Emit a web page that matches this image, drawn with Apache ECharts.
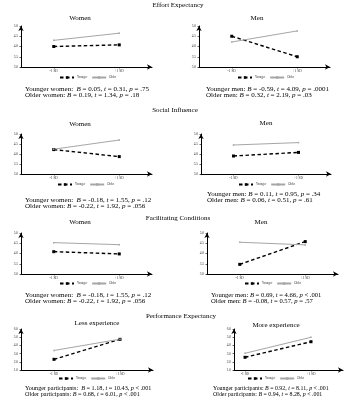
<!DOCTYPE html>
<html>
<head>
<meta charset="utf-8">
<script src="https://cdn.jsdelivr.net/npm/echarts@6/dist/echarts.min.js"></script>
<style>
  html, body { margin: 0; padding: 0; background: #fff; }
  #chart { width: 357px; height: 401px; }
</style>
</head>
<body>
<div id="chart"></div>
<script>
// ---------- data ----------
const xCategories = ['-1 SD', '+1 SD'];
const seriesNames = ['Younger', 'Older'];

const effortWomenYounger = [4.00, 4.08];
const effortWomenOlder   = [4.30, 4.65];
const effortMenYounger   = [4.50, 3.50];
const effortMenOlder     = [4.22, 4.76];

const socialWomenYounger = [4.22, 3.87];
const socialWomenOlder   = [4.24, 4.70];
const socialMenYounger   = [3.90, 4.08];
const socialMenOlder     = [4.45, 4.57];

const facilWomenYounger  = [4.09, 3.98];
const facilWomenOlder    = [4.53, 4.43];
const facilMenYounger    = [3.47, 4.58];
const facilMenOlder      = [4.55, 4.42];

const perfLessYounger    = [2.30, 4.74];
const perfLessOlder      = [3.38, 4.76];
const perfMoreYounger    = [2.55, 4.45];
const perfMoreOlder      = [3.04, 4.99];

const sectionTitles = ['Effort Expectancy', 'Social Influence', 'Facilitating Conditions', 'Performance Expectancy'];
const panelTitles = ['Women', 'Men', 'Women', 'Men', 'Women', 'Men', 'Less experience', 'More experience'];

const statLines = [
  ['Younger women:  B = 0.05, t = 0.31, p = .75', 'Older women: B = 0.19, t = 1.34, p = .18'],
  ['Younger men: B = -0.59, t = 4.09, p = .0001', 'Older men: B = 0.32, t = 2.19, p = .03'],
  ['Younger women:  B = -0.18, t = 1.55, p = .12', 'Older women: B = -0.22, t = 1.92, p = .056'],
  ['Younger men: B = 0.11, t = 0.95, p = .34', 'Older men: B = 0.06, t = 0.51, p = .61'],
  ['Younger women:  B = -0.18, t = 1.55, p = .12', 'Older women: B = -0.22, t = 1.92, p = .056'],
  ['Younger men: B = 0.69, t = 4.66, p < .001', 'Older men: B = -0.08, t = 0.57, p = .57'],
  ['Younger participants:  B = 1.18, t = 10.43, p < .001', 'Older participants: B = 0.68, t = 6.01, p < .001'],
  ['Younger participants: B = 0.92, t = 8.11, p < .001', 'Older participants: B = 0.94, t = 8.28, p < .001']
];

const panelData = [
  [effortWomenYounger, effortWomenOlder],
  [effortMenYounger, effortMenOlder],
  [socialWomenYounger, socialWomenOlder],
  [socialMenYounger, socialMenOlder],
  [facilWomenYounger, facilWomenOlder],
  [facilMenYounger, facilMenOlder],
  [perfLessYounger, perfLessOlder],
  [perfMoreYounger, perfMoreOlder]
];

// y scales: [min, max, interval]
const likertScale = [3, 5, 0.5];
const perfScale = [1, 6, 1];

// ---------- layout (positions only) ----------
const layout = [
  {l: 21,  t: 26,  w: 131, h: 41, xr: [-0.5, 1.5], y: likertScale, title: [80, 18],  leg: [85, 78],  stat: [25, 89],  fs: 7},
  {l: 199, t: 26,  w: 131, h: 41, xr: [-0.5, 1.5], y: likertScale, title: [257, 18], leg: [263, 78], stat: [206, 89], fs: 7},
  {l: 21,  t: 134, w: 131, h: 40, xr: [-0.5, 1.5], y: likertScale, title: [80, 124], leg: [83, 185], stat: [25, 200], fs: 7},
  {l: 201, t: 134, w: 130, h: 40, xr: [-0.5, 1.5], y: likertScale, title: [266, 123], leg: [264, 185], stat: [207, 194], fs: 7},
  {l: 21,  t: 233, w: 131, h: 41, xr: [-0.5, 1.5], y: likertScale, title: [80, 222], leg: [85, 284], stat: [25, 295], fs: 7},
  {l: 207, t: 233, w: 131, h: 41, xr: [-0.5, 1.5], y: likertScale, title: [261, 222], leg: [270, 284], stat: [211, 295], fs: 6.6},
  {l: 21,  t: 329, w: 132, h: 41, xr: [-0.5, 1.5], y: perfScale, title: [97, 323], leg: [84, 379], stat: [25, 388], fs: 6.2},
  {l: 234, t: 329, w: 109, h: 41, xr: [-0.167, 1.485], y: perfScale, title: [276, 325], leg: [273, 379], stat: [213, 388], fs: 5.9}
];
const sectionPos = [[178, 5], [175, 110], [178, 218], [181, 316]];

const SERIF = '"Liberation Serif", "DejaVu Serif", serif';
const TXT = 7;

function richStat(s) {
  return s.replace(/\b([Btp])(?= [=<])/g, '{i|$1}');
}

const grids = [], xAxes = [], yAxes = [], series = [], legends = [], graphics = [];

layout.forEach((L, i) => {
  grids.push({left: L.l, top: L.t, width: L.w, height: L.h, containLabel: false});
  xAxes.push({
    type: 'value', gridIndex: i, min: L.xr[0], max: L.xr[1],
    axisLine: {show: true, onZero: false, lineStyle: {color: '#000', width: 1}, symbol: ['none', 'arrow'], symbolSize: [4, 5]},
    axisTick: {show: true, length: 1.5, customValues: [0, 1], lineStyle: {color: '#000', width: 0.6}},
    axisLabel: {show: true, customValues: [0, 1], formatter: v => xCategories[Math.round(v)], fontSize: 3.5, margin: 2, color: '#333', fontFamily: SERIF},
    splitLine: {show: false}
  });
  yAxes.push({
    type: 'value', gridIndex: i, min: L.y[0], max: L.y[1], interval: L.y[2],
    axisLine: {show: true, onZero: false, lineStyle: {color: '#000', width: 1}, symbol: ['none', 'arrow'], symbolSize: [4, 5]},
    axisTick: {show: true, length: 1.5, lineStyle: {color: '#000', width: 0.6}},
    axisLabel: {fontSize: 3.5, margin: 3, color: '#333', fontFamily: SERIF, formatter: v => v.toFixed(1)},
    splitLine: {show: false}
  });
  const [yg, old] = panelData[i];
  series.push({
    type: 'line', name: seriesNames[0], xAxisIndex: i, yAxisIndex: i,
    data: yg.map((v, k) => [k, v]),
    symbol: 'rect', symbolSize: 3,
    lineStyle: {color: '#000', width: 1.4, type: [3.5, 2.5]},
    itemStyle: {color: '#000'}
  });
  series.push({
    type: 'line', name: seriesNames[1], xAxisIndex: i, yAxisIndex: i,
    data: old.map((v, k) => [k, v]),
    symbol: 'rect', symbolSize: 1.5,
    lineStyle: {color: '#a6a6a6', width: 1},
    itemStyle: {color: '#a6a6a6'}
  });
  legends.push({
    data: seriesNames, left: L.leg[0] - 26, top: L.leg[1] - 2,
    itemWidth: 14, itemHeight: 3, itemGap: 4, padding: 0, selectedMode: false,
    textStyle: {fontSize: 3, fontFamily: SERIF, color: '#333', padding: [0, 0, 0, -2]}
  });
  graphics.push({
    type: 'text', x: L.title[0], y: L.title[1],
    style: {text: panelTitles[i], fontSize: TXT, fontFamily: SERIF, fill: '#000', align: 'center', verticalAlign: 'middle'}
  });
  statLines[i].forEach((s, k) => {
    graphics.push({
      type: 'text', x: L.stat[0], y: L.stat[1] + k * 6,
      style: {
        text: richStat(s), fontSize: L.fs, fontFamily: SERIF, fill: '#000', align: 'left', verticalAlign: 'middle',
        rich: {i: {fontStyle: 'italic', fontSize: L.fs, fontFamily: SERIF, fill: '#000'}}
      }
    });
  });
});

sectionTitles.forEach((t, i) => {
  graphics.push({
    type: 'text', x: sectionPos[i][0], y: sectionPos[i][1],
    style: {text: t, fontSize: TXT, fontFamily: SERIF, fill: '#000', align: 'center', verticalAlign: 'middle'}
  });
});

const chart = echarts.init(document.getElementById('chart'), null, {renderer: 'canvas'});
chart.setOption({
  backgroundColor: '#fff',
  animation: false,
  grid: grids,
  xAxis: xAxes,
  yAxis: yAxes,
  legend: legends,
  series: series,
  graphic: graphics
});
</script>
</body>
</html>
